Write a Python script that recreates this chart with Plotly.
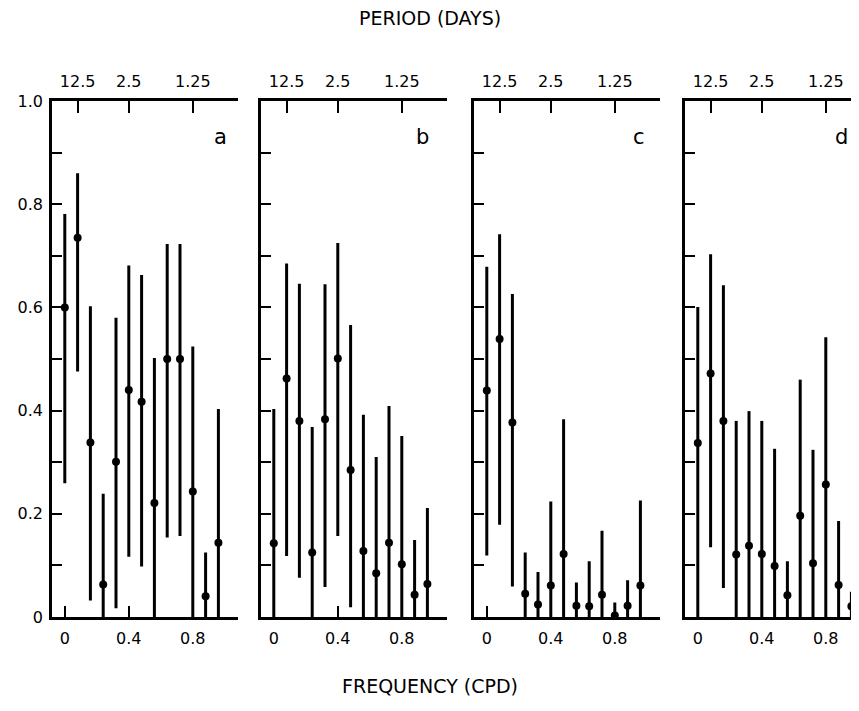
import plotly.graph_objects as go

# ---------------- data ----------------
freq = [0.00, 0.08, 0.16, 0.24, 0.32, 0.40, 0.48, 0.56, 0.64, 0.72, 0.80, 0.88, 0.96]
panel_labels = ["a", "b", "c", "d"]
bottom_tickvals = [0, 0.4, 0.8]
bottom_ticktext = ["0", "0.4", "0.8"]
period_tickvals = [0.08, 0.4, 0.8]          # 1/12.5, 1/2.5, 1/1.25 cpd
period_ticktext = ["12.5", "2.5", "1.25"]
y_tickvals = [0, 0.1, 0.2, 0.3, 0.4, 0.5, 0.6, 0.7, 0.8, 0.9, 1.0]
y_ticktext = ["0", "", "0.2", "", "0.4", "", "0.6", "", "0.8", "", "1.0"]

a_val = [0.600, 0.735, 0.338, 0.063, 0.301, 0.440, 0.417, 0.221, 0.500, 0.500, 0.243, 0.040, 0.144]
a_hi  = [0.781, 0.860, 0.602, 0.239, 0.580, 0.681, 0.663, 0.502, 0.723, 0.723, 0.524, 0.125, 0.403]
a_lo  = [0.259, 0.476, 0.032, 0.000, 0.017, 0.117, 0.098, 0.000, 0.154, 0.157, 0.000, 0.000, 0.000]

b_val = [0.143, 0.462, 0.380, 0.125, 0.383, 0.501, 0.285, 0.128, 0.085, 0.144, 0.102, 0.043, 0.064]
b_hi  = [0.403, 0.685, 0.646, 0.368, 0.645, 0.725, 0.566, 0.392, 0.310, 0.409, 0.351, 0.149, 0.211]
b_lo  = [0.000, 0.118, 0.076, 0.000, 0.058, 0.157, 0.019, 0.000, 0.000, 0.000, 0.000, 0.000, 0.000]

c_val = [0.439, 0.539, 0.377, 0.045, 0.024, 0.061, 0.122, 0.022, 0.021, 0.043, 0.003, 0.022, 0.061]
c_hi  = [0.679, 0.742, 0.626, 0.125, 0.087, 0.224, 0.383, 0.067, 0.108, 0.167, 0.028, 0.071, 0.226]
c_lo  = [0.119, 0.179, 0.059, 0.000, 0.000, 0.000, 0.000, 0.000, 0.000, 0.000, 0.000, 0.000, 0.000]

d_val = [0.337, 0.472, 0.380, 0.121, 0.138, 0.122, 0.099, 0.042, 0.196, 0.104, 0.257, 0.062, 0.021]
d_hi  = [0.601, 0.703, 0.643, 0.380, 0.399, 0.380, 0.326, 0.108, 0.460, 0.324, 0.542, 0.186, 0.049]
d_lo  = [0.000, 0.135, 0.056, 0.000, 0.000, 0.000, 0.000, 0.000, 0.000, 0.000, 0.000, 0.000, 0.000]

panels = [(a_val, a_hi, a_lo), (b_val, b_hi, b_lo), (c_val, c_hi, c_lo), (d_val, d_hi, d_lo)]

# ---------------- layout geometry ----------------
# the page body adds an 8 px offset; pixel positions below are relative to
# the figure's own top-left corner. Panel d runs off the right edge, as in
# the reference.
OFF = 8
W, H = 859, 711 - OFF
FONT = "DejaVu Sans"
px_per_unit = 160.0
x_start = -0.08
panel_left_px = [52 - OFF, 261 - OFF, 474 - OFF, 685 - OFF]
y_bottom_px, y_top_px = 617 - OFF, 101 - OFF

fig = go.Figure()
layout = dict(
    width=W, height=H,
    margin=dict(l=0, r=0, t=0, b=0, pad=0, autoexpand=False),
    paper_bgcolor="white", plot_bgcolor="white",
    showlegend=False,
    font=dict(family=FONT, size=16, color="black"),
)

for i, (val, hi, lo) in enumerate(panels):
    n = i + 1
    nt = i + 5
    left = panel_left_px[i]
    right = min(left + 1.16 * px_per_unit, W)
    x_end = x_start + (right - left) / px_per_unit
    xdom = [left / W, right / W]
    ydom = [(H - y_bottom_px) / H, (H - y_top_px) / H]

    up = [h - v for h, v in zip(hi, val)]
    down = [v - l for v, l in zip(val, lo)]

    fig.add_trace(go.Scatter(
        x=freq, y=val, mode="markers",
        marker=dict(color="black", size=8),
        error_y=dict(type="data", symmetric=False, array=up, arrayminus=down,
                     color="black", thickness=3, width=0),
        xaxis=f"x{n}", yaxis=f"y{n}", hoverinfo="skip", cliponaxis=False,
    ))
    # invisible trace so the top (period) axis is drawn
    fig.add_trace(go.Scatter(
        x=freq, y=val, mode="markers", marker=dict(opacity=0),
        xaxis=f"x{nt}", yaxis=f"y{n}", hoverinfo="skip",
    ))

    layout[f"xaxis{n}"] = dict(
        domain=xdom, range=[x_start, x_end], anchor=f"y{n}",
        showgrid=False, zeroline=False, automargin=False,
        showline=True, linecolor="black", linewidth=2.5,
        ticks="inside", ticklen=11, tickwidth=2, tickcolor="black",
        tickvals=bottom_tickvals, ticktext=bottom_ticktext,
        ticklabelstandoff=5,
        tickfont=dict(family=FONT, size=16, color="black"),
    )
    layout[f"xaxis{nt}"] = dict(
        domain=xdom, range=[x_start, x_end], anchor=f"y{n}",
        overlaying=f"x{n}", side="top",
        showgrid=False, zeroline=False, automargin=False,
        showline=True, linecolor="black", linewidth=2.5,
        ticks="inside", ticklen=12, tickwidth=2, tickcolor="black",
        tickvals=period_tickvals, ticktext=period_ticktext,
        ticklabelstandoff=5,
        tickfont=dict(family=FONT, size=16, color="black"),
    )
    layout[f"yaxis{n}"] = dict(
        domain=ydom, range=[0, 1], anchor=f"x{n}",
        showgrid=False, zeroline=False, automargin=False,
        showline=True, linecolor="black", linewidth=2.5,
        ticks="inside", ticklen=10, tickwidth=2, tickcolor="black",
        tickvals=y_tickvals, ticktext=y_ticktext,
        showticklabels=(i == 0), ticklabelstandoff=3,
        tickfont=dict(family=FONT, size=16, color="black"),
    )

layout["annotations"] = [
    dict(text="PERIOD (DAYS)", x=(430 - OFF) / W, y=1 - (18 - OFF) / H,
         xref="paper", yref="paper", xanchor="center", yanchor="middle",
         showarrow=False, font=dict(family=FONT, size=19, color="black")),
    dict(text="FREQUENCY (CPD)", x=(430 - OFF) / W, y=1 - (686 - OFF) / H,
         xref="paper", yref="paper", xanchor="center", yanchor="middle",
         showarrow=False, font=dict(family=FONT, size=19, color="black")),
]
label_x = [0.97, 0.93, 0.95, 0.895]
for i, lab in enumerate(panel_labels):
    layout["annotations"].append(dict(
        text=lab, x=label_x[i], y=0.93, xref=f"x{i+1}", yref=f"y{i+1}",
        xanchor="center", yanchor="middle",
        showarrow=False, font=dict(family=FONT, size=21, color="black"),
    ))

fig.update_layout(**layout)
fig.write_html("out.html")
